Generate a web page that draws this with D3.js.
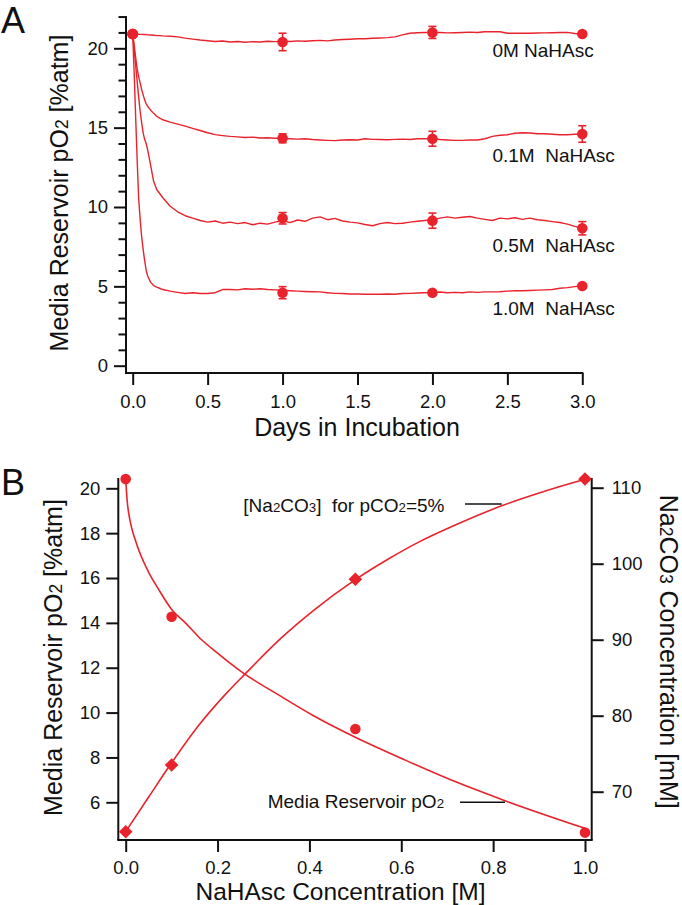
<!DOCTYPE html>
<html><head><meta charset="utf-8">
<script src="https://cdn.jsdelivr.net/npm/d3@7"></script>
<style>body{margin:0;background:#fff} svg{display:block;background:#fff} text{font-family:'Liberation Sans',Arial,sans-serif;fill:#111}</style>
</head><body><svg id="c" width="682" height="905"></svg>
<script>
// ---------------- DATA : panel A (time courses) ----------------
const tGrid = [0,0.01,0.02,0.03,0.04,0.05,0.06,0.07,0.08,0.09,0.1,0.12,0.14,0.16,0.18,0.2,0.25,0.3,
  0.35,0.4,0.45,0.5,0.55,0.6,0.65,0.7,0.75,0.8,0.85,0.9,0.95,1.0,
  1.05,1.1,1.15,1.2,1.25,1.3,1.35,1.4,1.45,1.5,
  1.55,1.6,1.65,1.7,1.75,1.8,1.85,1.9,1.95,2.0,
  2.05,2.1,2.15,2.2,2.25,2.3,2.35,2.4,2.45,2.5,
  2.55,2.6,2.65,2.7,2.75,2.8,2.85,2.9,2.95,3.0];
const trace0M = [20.9,20.9,20.9,20.89,20.89,20.88,20.88,20.87,20.87,20.86,20.85,20.84,20.82,20.8,20.8,20.78,20.76,20.72,
  20.64,20.58,20.52,20.48,20.43,20.46,20.4,20.43,20.38,20.42,20.4,20.44,20.42,20.45,
  20.43,20.47,20.44,20.48,20.5,20.47,20.52,20.55,20.57,20.6,
  20.6,20.63,20.65,20.67,20.72,20.85,20.95,20.98,21.0,21.0,
  21.0,20.97,20.98,21.0,21.02,21.0,21.04,21.05,21.04,20.95,
  20.95,20.95,20.95,20.96,20.97,20.98,21.0,21.0,20.93,20.88];
const trace01M = [20.9,20.2,19.4,18.7,18.2,17.8,17.4,17.05,16.75,16.5,16.35,16.1,15.9,15.72,15.6,15.5,15.35,15.22,
  15.1,14.95,14.82,14.68,14.56,14.5,14.45,14.42,14.38,14.4,14.35,14.36,14.33,14.33,
  14.3,14.28,14.3,14.25,14.22,14.2,14.18,14.22,14.24,14.22,
  14.3,14.26,14.25,14.24,14.26,14.28,14.25,14.3,14.3,14.3,
  14.25,14.22,14.2,14.2,14.22,14.22,14.3,14.45,14.52,14.55,
  14.65,14.68,14.66,14.62,14.62,14.58,14.55,14.55,14.58,14.6];
const trace05M = [20.9,19.9,18.9,17.9,16.9,16.0,15.3,14.65,14.25,14.0,13.6,12.6,11.6,11.1,10.85,10.6,10.05,9.7,
  9.45,9.3,9.15,9.05,9.12,8.98,9.05,8.95,9.02,8.88,8.98,8.92,9.05,9.15,
  9.02,9.18,9.1,9.3,9.38,9.2,9.28,9.12,9.05,9.0,
  8.9,8.82,8.95,9.02,8.95,8.98,9.05,9.1,9.15,9.2,
  9.3,9.38,9.3,9.35,9.4,9.3,9.22,9.15,9.3,9.25,
  9.32,9.22,9.3,9.2,9.15,9.08,9.02,8.92,8.78,8.66];
const trace10M = [20.9,18.4,15.6,12.9,10.5,9.2,8.1,7.3,6.6,6.0,5.65,5.25,5.05,4.95,4.88,4.8,4.7,4.62,
  4.55,4.6,4.55,4.55,4.6,4.8,4.8,4.78,4.85,4.82,4.85,4.8,4.78,4.75,
  4.72,4.7,4.68,4.66,4.65,4.6,4.56,4.55,4.52,4.52,
  4.5,4.5,4.5,4.52,4.5,4.55,4.56,4.58,4.6,4.62,
  4.64,4.6,4.62,4.6,4.65,4.62,4.65,4.65,4.66,4.7,
  4.72,4.72,4.74,4.76,4.78,4.8,4.88,4.92,4.98,5.02];
const markerDays = [0,1,2,3];
const mean0M = [20.9,20.4,21.0,20.9],  err0M = [0,0.55,0.38,0];
const mean01M = [20.9,14.33,14.3,14.6], err01M = [0,0.28,0.47,0.52];
const mean05M = [20.9,9.29,9.14,8.66],  err05M = [0,0.36,0.48,0.42];
const mean10M = [20.9,4.6,4.6,5.02],    err10M = [0,0.38,0,0];
const seriesLabelsA = ["0M NaHAsc","0.1M  NaHAsc","0.5M  NaHAsc","1.0M  NaHAsc"];
const xTicksA = [0,0.5,1.0,1.5,2.0,2.5,3.0];
const yMajorA = [0,5,10,15,20];
const yMinorA = [1,2,3,4,6,7,8,9,11,12,13,14,16,17,18,19,21,22];

// ---------------- DATA : panel B ----------------
const concB = [0,0.1,0.5,1.0];
const pO2B = [20.41,14.27,9.27,4.65];
const na2co3B = [64.74,73.51,97.95,111.14];
const pO2FitX = [0,0.003,0.01,0.02,0.05,0.07,0.1,0.13,0.16,0.2,0.25,0.34,0.41,0.5,0.61,0.72,0.83,1.0];
const pO2FitY = [20.4,19.5,18.5,17.75,16.25,15.55,14.6,14.0,13.35,12.65,11.85,10.7,9.85,8.9,7.87,6.9,6.04,4.84];
const naFitX = [0,0.05,0.1,0.16,0.22,0.26,0.34,0.41,0.5,0.57,0.64,0.72,0.82,0.9,1.0];
const naFitY = [64.74,69.3,73.8,78.8,83.0,85.5,90.3,93.9,97.9,100.55,102.9,105.15,107.65,109.3,111.1];
const xTicksB = [0,0.2,0.4,0.6,0.8,1.0];
const yLeftTicksB = [6,8,10,12,14,16,18,20];
const yRightTicksB = [70,80,90,100,110];

// ---------------- DRAWING ----------------
const svg = d3.select('#c');
const RED = '#e8232c';
const TICKFS = 18.5, TITLEFS = 25, LABFS = 19;

function styleAxis(g, fs){
  g.select('.domain').remove();
  g.selectAll('.tick line').attr('stroke','#111').attr('stroke-width',2);
  g.selectAll('.tick text').attr('font-size',fs).attr('fill','#111')
    .attr('font-family',"'Liberation Sans',Arial,sans-serif");
}
function subText(sel, parts){
  parts.forEach(p=>{
    const t = sel.append('tspan').text(p[0]);
    if(p[1]) t.attr('font-size','0.7em');
  });
  return sel;
}

// ----- Panel A -----
const xA = d3.scaleLinear().domain([0,3]).range([132.7,582.3]);
const yA = d3.scaleLinear().domain([0,20]).range([365.7,48.3]);
const leftA = 126, bottomA = 373;

const gA = svg.append('g');
styleAxis(gA.append('g').attr('transform',`translate(${leftA},0)`)
  .call(d3.axisLeft(yA).tickValues(yMajorA).tickSize(12).tickPadding(6)), TICKFS);
styleAxis(gA.append('g').attr('transform',`translate(${leftA},0)`)
  .call(d3.axisLeft(yA).tickValues(yMinorA).tickSize(7.5).tickFormat('')), TICKFS);
styleAxis(gA.append('g').attr('transform',`translate(0,${bottomA})`)
  .call(d3.axisBottom(xA).tickValues(xTicksA).tickSize(12).tickPadding(10).tickFormat(d3.format('.1f'))), TICKFS);
gA.append('line').attr('x1',leftA).attr('x2',leftA).attr('y1',yA(22)-0.5).attr('y2',bottomA)
  .attr('stroke','#111').attr('stroke-width',2);
gA.append('line').attr('x1',leftA-1).attr('x2',xA(3)+1).attr('y1',bottomA).attr('y2',bottomA)
  .attr('stroke','#111').attr('stroke-width',2);

const lineA = d3.line().x((d,i)=>xA(tGrid[i])).y(d=>yA(d));
[trace0M,trace01M,trace05M,trace10M].forEach(tr=>{
  gA.append('path').attr('d',lineA(tr)).attr('fill','none').attr('stroke',RED)
    .attr('stroke-width',1.4).attr('stroke-linejoin','round');
});
[[mean0M,err0M],[mean01M,err01M],[mean05M,err05M],[mean10M,err10M]].forEach(([m,e])=>{
  markerDays.forEach((d,i)=>{
    if(e[i]>0){
      const cx = xA(d);
      gA.append('line').attr('x1',cx).attr('x2',cx).attr('y1',yA(m[i]-e[i])).attr('y2',yA(m[i]+e[i]))
        .attr('stroke',RED).attr('stroke-width',1.6);
      [m[i]-e[i], m[i]+e[i]].forEach(v=>{
        gA.append('line').attr('x1',cx-4).attr('x2',cx+4).attr('y1',yA(v)).attr('y2',yA(v))
          .attr('stroke',RED).attr('stroke-width',1.6);
      });
    }
    gA.append('circle').attr('cx',xA(d)).attr('cy',yA(m[i])).attr('r',5.3).attr('fill',RED);
  });
});
const labYA = [57,161.7,251.7,315];
seriesLabelsA.forEach((s,i)=>{
  gA.append('text').attr('x',xA(2.4)).attr('y',labYA[i]).attr('font-size',LABFS)
    .style('white-space','pre').text(s);
});
gA.append('text').attr('x',357).attr('y',436).attr('text-anchor','middle')
  .attr('font-size',TITLEFS).text('Days in Incubation');
subText(gA.append('text').attr('transform','translate(68,193) rotate(-90)').attr('text-anchor','middle')
  .attr('font-size',TITLEFS), [['Media Reservoir pO'],['2',true],[' [%atm]']]);
gA.append('text').attr('x',1).attr('y',32.5).attr('font-size',36).text('A');

// ----- Panel B -----
const xB = d3.scaleLinear().domain([0,1]).range([125.7,585]);
const yBL = d3.scaleLinear().domain([6,20]).range([802.3,488.3]);
const yBR = d3.scaleLinear().domain([70,110]).range([791.7,487.7]);
const leftB = 118.3, rightB = 591.7, bottomB = 840, topB = 478;

const gB = svg.append('g');
styleAxis(gB.append('g').attr('transform',`translate(${leftB},0)`)
  .call(d3.axisLeft(yBL).tickValues(yLeftTicksB).tickSize(12).tickPadding(6)), TICKFS);
styleAxis(gB.append('g').attr('transform',`translate(${rightB},0)`)
  .call(d3.axisRight(yBR).tickValues(yRightTicksB).tickSize(12).tickPadding(8)), TICKFS);
styleAxis(gB.append('g').attr('transform',`translate(0,${bottomB})`)
  .call(d3.axisBottom(xB).tickValues(xTicksB).tickSize(12).tickPadding(8.5).tickFormat(d3.format('.1f'))), TICKFS);
[[leftB,topB,leftB,bottomB],[rightB,topB,rightB,bottomB],[leftB-1,bottomB,rightB+1,bottomB]].forEach(l=>{
  gB.append('line').attr('x1',l[0]).attr('y1',l[1]).attr('x2',l[2]).attr('y2',l[3])
    .attr('stroke','#111').attr('stroke-width',2);
});

gB.append('path').attr('d', d3.line().curve(d3.curveMonotoneX).x((d,i)=>xB(pO2FitX[i])).y(d=>yBL(d))(pO2FitY))
  .attr('fill','none').attr('stroke',RED).attr('stroke-width',1.6);
gB.append('path').attr('d', d3.line().curve(d3.curveMonotoneX).x((d,i)=>xB(naFitX[i])).y(d=>yBR(d))(naFitY))
  .attr('fill','none').attr('stroke',RED).attr('stroke-width',1.6);
concB.forEach((c,i)=>{
  gB.append('circle').attr('cx',xB(c)).attr('cy',yBL(pO2B[i])).attr('r',5.3).attr('fill',RED);
  const dx = xB(c), dy = yBR(na2co3B[i]), h = 6.8;
  gB.append('path').attr('d',`M${dx},${dy-h}L${dx+h},${dy}L${dx},${dy+h}L${dx-h},${dy}Z`).attr('fill',RED);
});

// annotations
subText(gB.append('text').attr('x',243.3).attr('y',511.7).attr('font-size',LABFS).style('white-space','pre'),
  [['[Na'],['2',true],['CO'],['3',true],[']  for pCO'],['2',true],['=5%']]);
gB.append('line').attr('x1',465).attr('x2',501.7).attr('y1',504).attr('y2',504).attr('stroke','#111').attr('stroke-width',1.6);
subText(gB.append('text').attr('x',267.7).attr('y',808.3).attr('font-size',LABFS),
  [['Media Reservoir pO'],['2',true]]);
gB.append('line').attr('x1',460).attr('x2',505).attr('y1',802.3).attr('y2',802.3).attr('stroke','#111').attr('stroke-width',1.6);

gB.append('text').attr('x',340.5).attr('y',899.8).attr('text-anchor','middle')
  .attr('font-size',24.5).text('NaHAsc Concentration [M]');
subText(gB.append('text').attr('transform','translate(61.7,657.5) rotate(-90)').attr('text-anchor','middle')
  .attr('font-size',TITLEFS), [['Media Reservoir pO'],['2',true],[' [%atm]']]);
subText(gB.append('text').attr('transform','translate(660,651.7) rotate(90)').attr('text-anchor','middle')
  .attr('font-size',TITLEFS), [['Na'],['2',true],['CO'],['3',true],[' Concentration [mM]']]);
gB.append('text').attr('x',1).attr('y',495).attr('font-size',36).text('B');
</script></body></html>
